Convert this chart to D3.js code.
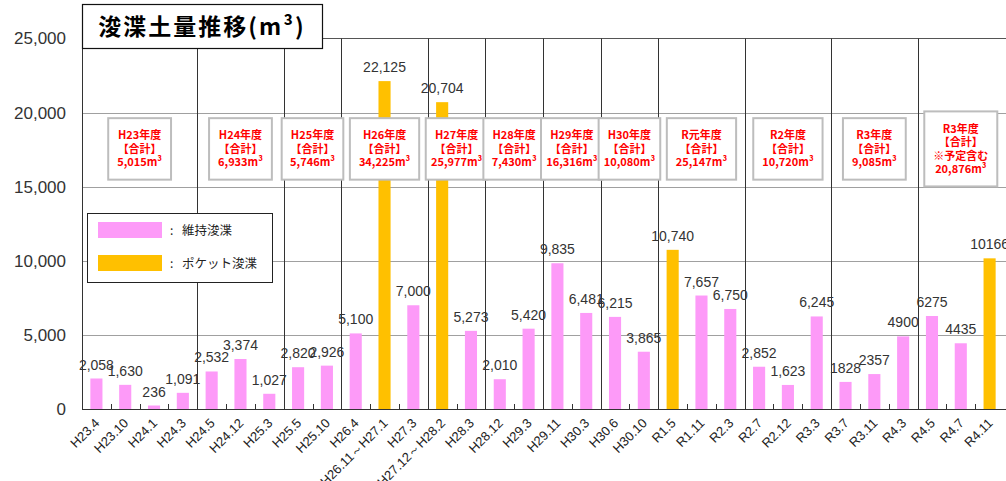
<!DOCTYPE html>
<html><head><meta charset="utf-8">
<script src="https://cdn.jsdelivr.net/npm/d3@7/dist/d3.min.js"></script>
<style>
html,body{margin:0;padding:0;background:#fff;}
svg{display:block;}
</style></head>
<body>
<script>
// ---- data ----
const categories = ["H23.4","H23.10","H24.1","H24.3","H24.5","H24.12","H25.3","H25.5","H25.10","H26.4",
  "H26.11～H27.1","H27.3","H27.12～H28.2","H28.3","H28.12","H29.3","H29.11","H30.3","H30.6","H30.10",
  "R1.5","R1.11","R2.3","R2.7","R2.12","R3.3","R3.7","R3.11","R4.3","R4.5","R4.7","R4.11"];
const values = [2058,1630,236,1091,2532,3374,1027,2820,2926,5100,
  22125,7000,20704,5273,2010,5420,9835,6481,6215,3865,
  10740,7657,6750,2852,1623,6245,1828,2357,4900,6275,4435,10166];
const types = ["m","m","m","m","m","m","m","m","m","m",
  "p","m","p","m","m","m","m","m","m","m",
  "p","m","m","m","m","m","m","m","m","m","m","p"]; // m = 維持浚渫, p = ポケット浚渫
const plainLabelFrom = 26; // labels from R3.7 on are shown without thousands separator
const yTicks = [0,5000,10000,15000,20000,25000];
const fyNames = ["H23年度","H24年度","H25年度","H26年度","H27年度","H28年度","H29年度","H30年度","R元年度","R2年度","R3年度","R3年度"];
const fyStarts = [0,4,7,9,12,14,16,18,20,23,26,29];
const fyTotals = ["5,015","6,933","5,746","34,225","25,977","7,430","16,316","10,080","25,147","10,720","9,085","20,876"];
const fyNotes = ["","","","","","","","","","","","※予定含む"];
const seriesNames = {m:"維持浚渫", p:"ポケット浚渫"};
const title = "浚渫土量推移(m³)";

// ---- layout ----
const W = 1006, H = 481;
const L = 82, R = 1004, T = 38.5, B = 409;
const colors = {m:"#fd9af8", p:"#ffc000"};
const latin = "'Liberation Sans', Arial, sans-serif";
const cjk = "'Noto Sans CJK JP', 'Liberation Sans', sans-serif";

const svg = d3.select("body").append("svg").attr("width", W).attr("height", H);

const x = d3.scaleBand().domain(categories).range([L, R]).paddingInner(0.58).paddingOuter(0.29);
const y = d3.scaleLinear().domain([0, 25000]).range([B, T]);
const step = x.step();
const bx = i => x(categories[i]) - x.paddingInner()*step/2; // left boundary of band i

// gridlines
svg.append("g").selectAll("line").data(yTicks.filter(t => t > 0 && t < 25000)).join("line")
  .attr("x1", L).attr("x2", W).attr("y1", d => Math.round(y(d))+0.5).attr("y2", d => Math.round(y(d))+0.5)
  .attr("stroke", "#a0a0a0").attr("stroke-width", 1);
// top line
svg.append("line").attr("x1", L).attr("x2", W).attr("y1", T).attr("y2", T).attr("stroke", "#555").attr("stroke-width", 1.2);

// fiscal year separators
svg.append("g").selectAll("line").data(fyStarts).join("line")
  .attr("x1", d => Math.round(bx(d))+0.5).attr("x2", d => Math.round(bx(d))+0.5)
  .attr("y1", T).attr("y2", B).attr("stroke", "#333").attr("stroke-width", 1);

// y axis labels
const yAxis = d3.axisLeft(y).tickValues(yTicks).tickFormat(d3.format(",")).tickSize(0).tickPadding(16);
const ya = svg.append("g").attr("transform", `translate(${L},0)`).call(yAxis);
ya.select(".domain").remove();
ya.selectAll("text").attr("font-family", latin).attr("font-size", 17).attr("fill", "#333");

// bars
svg.append("g").selectAll("rect").data(values).join("rect")
  .attr("x", (d,i) => x(categories[i])).attr("width", x.bandwidth())
  .attr("y", d => y(d)).attr("height", d => B - y(d))
  .attr("fill", (d,i) => colors[types[i]]);

// value labels
const fmtC = d3.format(","), fmtP = d3.format("d");
svg.append("g").selectAll("text").data(values).join("text")
  .attr("x", (d,i) => x(categories[i]) + x.bandwidth()/2)
  .attr("y", d => y(d) - 9)
  .attr("text-anchor", "middle").attr("font-family", latin).attr("font-size", 14).attr("fill", "#333")
  .text((d,i) => i >= plainLabelFrom ? fmtP(d) : fmtC(d));

// x axis
const xa = svg.append("g").attr("transform", `translate(0,${B})`);
xa.append("line").attr("x1", L).attr("x2", W).attr("y1", 0.5).attr("y2", 0.5).attr("stroke", "#333");
xa.selectAll("line.tk").data(d3.range(1, categories.length)).join("line").attr("class","tk")
  .attr("x1", d => Math.round(bx(d))+0.5).attr("x2", d => Math.round(bx(d))+0.5)
  .attr("y1", 0).attr("y2", -5).attr("stroke", "#333");
xa.selectAll("text").data(categories).join("text")
  .attr("transform", d => `translate(${x(d) + x.bandwidth()/2 + 4},${15}) rotate(-45)`)
  .attr("text-anchor", "end").attr("font-family", latin).attr("font-size", 13).attr("fill", "#222")
  .text(d => d);

// fiscal year annotation boxes
const boxG = svg.append("g");
fyNames.forEach((name, k) => {
  const s = fyStarts[k], e = k + 1 < fyStarts.length ? fyStarts[k+1] : categories.length;
  const x0 = bx(s), x1 = e < categories.length ? bx(e) : R;
  const cx = (x0 + x1) / 2;
  const lines = [name, "【合計】"];
  if (fyNotes[k]) lines.push(fyNotes[k]);
  lines.push(fyTotals[k] + "m³");
  const g = boxG.append("g");
  const rect = g.append("rect");
  const lh = 13.5;
  const cy = y(17550);
  const texts = g.selectAll("text").data(lines).join("text")
    .attr("x", cx).attr("y", (d,i) => cy + (i - (lines.length-1)/2) * lh + 4)
    .attr("text-anchor", "middle").attr("font-family", cjk).attr("font-weight", "bold")
    .attr("font-size", 11).attr("fill", "#ff0000").text(d => d);
  let tw = 0; texts.each(function(){ tw = Math.max(tw, this.getComputedTextLength()); });
  const w = Math.min(tw + 18, (x1 - x0) + 4);
  const h = lines.length * lh + 21;
  rect.attr("x", cx - w/2).attr("y", cy - h/2).attr("width", w).attr("height", h)
    .attr("fill", "#fff").attr("stroke", "#bdbdbd").attr("stroke-width", 2);
});

// legend
const lg = svg.append("g");
lg.append("rect").attr("x", 87.5).attr("y", 213.5).attr("width", 185).attr("height", 69)
  .attr("fill", "#fff").attr("stroke", "#222").attr("stroke-width", 1);
["m","p"].forEach((k, i) => {
  lg.append("rect").attr("x", 98).attr("y", 222 + i*33).attr("width", 64).attr("height", 16).attr("fill", colors[k]);
  lg.append("text").attr("x", 170).attr("y", 235 + i*33).attr("font-family", cjk).attr("font-size", 12)
    .attr("fill", "#222").text(":");
  lg.append("text").attr("x", 182).attr("y", 235 + i*33).attr("font-family", cjk).attr("font-size", 12.5)
    .attr("fill", "#222").text(seriesNames[k]);
});

// title box
const tg = svg.append("g");
tg.append("rect").attr("x", 82.5).attr("y", 4.5).attr("width", 240).attr("height", 44)
  .attr("fill", "#fff").attr("stroke", "#111").attr("stroke-width", 1.2);
tg.append("text").attr("x", 202).attr("y", 35).attr("text-anchor", "middle")
  .attr("font-family", cjk).attr("font-weight", "bold").attr("font-size", 23).attr("letter-spacing", 2).attr("fill", "#000")
  .text(title);
</script>
</body></html>
